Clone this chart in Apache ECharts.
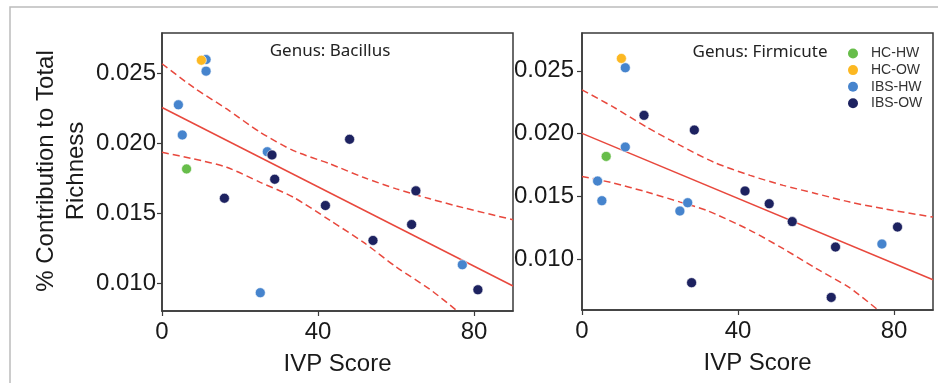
<!DOCTYPE html>
<html><head><meta charset="utf-8">
<script src="https://cdn.jsdelivr.net/npm/echarts@6/dist/echarts.min.js"></script>
<style>html,body{margin:0;padding:0;background:#fff}#c{width:938px;height:383px}</style>
</head><body><div id="c"></div>
<script>
// ---- data ----
const groups = ['HC-HW', 'HC-OW', 'IBS-HW', 'IBS-OW'];
const xTicks = [0, 40, 80];
const yTicks = [0.010, 0.015, 0.020, 0.025];
const panelTitles = ['Genus: Bacillus', 'Genus: Firmicute'];

// Bacillus panel
const bacHCHW = [[6.3, 0.01817]];
const bacHCOW = [[10.1, 0.02595]];
const bacIBSHW = [[11.3, 0.0260], [11.3, 0.02517], [4.2, 0.02276], [5.2, 0.0206], [27.0, 0.0194], [25.2, 0.00931], [77.0, 0.01131]];
const bacIBSOW = [[16.0, 0.01607], [28.2, 0.01917], [28.9, 0.01743], [48.1, 0.02029], [41.9, 0.01555], [54.1, 0.01305], [65.1, 0.0166], [64.0, 0.01419], [81.0, 0.00952]];
const bacFit = [[0, 0.02257], [90, 0.00979]];
const bacUpper = [[0, 0.0257], [8.1, 0.0240], [16.6, 0.02246], [25.2, 0.02079], [33.7, 0.01948], [43.1, 0.01853], [51.6, 0.01757], [60.1, 0.01674], [68.7, 0.01603], [77.2, 0.01540], [90, 0.01453]];
const bacLower = [[0, 0.01936], [8.1, 0.01889], [16.6, 0.01829], [25.2, 0.01721], [33.7, 0.01614], [43.1, 0.01448], [51.6, 0.01293], [60.1, 0.01114], [68.7, 0.00955], [75.5, 0.00805]];

// Firmicute panel
const firHCHW = [[6.2, 0.0182]];
const firHCOW = [[10.1, 0.02598]];
const firIBSHW = [[11.1, 0.02524], [11.1, 0.01894], [4.0, 0.01624], [5.1, 0.01468], [25.1, 0.01386], [27.1, 0.01452], [76.9, 0.01124]];
const firIBSOW = [[15.9, 0.02146], [28.8, 0.02029], [28.1, 0.00817], [41.8, 0.01545], [48.0, 0.01444], [53.9, 0.01302], [65.0, 0.0110], [63.9, 0.0070], [80.9, 0.01259]];
const firFit = [[0, 0.02003], [90, 0.0084]];
const firUpper = [[0, 0.02349], [8.1, 0.02211], [16.6, 0.02052], [25.2, 0.01907], [33.7, 0.01775], [43.1, 0.01669], [51.6, 0.0159], [60.1, 0.01524], [68.7, 0.01457], [77.2, 0.01405], [90, 0.01338]];
const firLower = [[0, 0.01661], [8.1, 0.01608], [16.6, 0.01537], [25.2, 0.01457], [32.0, 0.01391], [43.1, 0.01233], [51.6, 0.01087], [60.1, 0.00929], [68.7, 0.00775], [75.9, 0.006]];

// ---- styling ----
const colors = {'HC-HW': '#67bd4a', 'HC-OW': '#fcb822', 'IBS-HW': '#4684cd', 'IBS-OW': '#1d2260'};
const red = '#e8483d';
const axisColor = '#3a3a3a';
const textColor = '#1a1a1a';
const font = '"Liberation Sans", Arial, sans-serif';

const grids = [
  {left: 162, top: 33, width: 351, height: 278},
  {left: 582, top: 33, width: 351, height: 277}
];
const yRanges = [[0.008, 0.0279], [0.006, 0.028]];
const labelMargins = [6, 8];

function xAxis(i) {
  return {
    type: 'value', gridIndex: i, min: 0, max: 90,
    name: 'IVP Score', nameLocation: 'middle', nameGap: 41,
    nameTextStyle: {fontSize: 24, color: textColor, fontFamily: font},
    axisLine: {show: true, lineStyle: {color: axisColor, width: 1.5}},
    axisTick: {show: true, length: 5, customValues: xTicks, lineStyle: {color: axisColor, width: 1.2}},
    axisLabel: {customValues: xTicks, fontSize: 24, color: textColor, fontFamily: font, margin: 9},
    splitLine: {show: false}
  };
}
function yAxis(i) {
  return {
    type: 'value', gridIndex: i, min: yRanges[i][0], max: yRanges[i][1],
    axisLine: {show: true, lineStyle: {color: axisColor, width: 1.5}},
    axisTick: {show: true, length: 5, customValues: yTicks, lineStyle: {color: axisColor, width: 1.2}},
    axisLabel: {customValues: yTicks, fontSize: 24, color: textColor, fontFamily: font, margin: labelMargins[i],
      formatter: v => v.toFixed(3)},
    splitLine: {show: false}
  };
}

function lineSeries(i, data, dashed) {
  return {
    type: 'line', xAxisIndex: i, yAxisIndex: i, data: data, showSymbol: false, symbol: 'none',
    smooth: dashed ? 0.25 : false, silent: true, z: 1,
    lineStyle: {color: red, width: 1.5, type: dashed ? [7, 4] : 'solid'}
  };
}
function scatter(i, name, data, z) {
  return {
    type: 'scatter', name: name, xAxisIndex: i, yAxisIndex: i, data: data,
    symbolSize: 10, z: z,
    itemStyle: {color: colors[name], opacity: 1, borderColor: '#ffffff', borderWidth: 0.6}
  };
}

const panels = [
  {hchw: bacHCHW, hcow: bacHCOW, ibshw: bacIBSHW, ibsow: bacIBSOW, fit: bacFit, up: bacUpper, lo: bacLower},
  {hchw: firHCHW, hcow: firHCOW, ibshw: firIBSHW, ibsow: firIBSOW, fit: firFit, up: firUpper, lo: firLower}
];
const series = [];
panels.forEach((p, i) => {
  series.push(lineSeries(i, p.up, true));
  series.push(lineSeries(i, p.lo, true));
  series.push(lineSeries(i, p.fit, false));
  series.push(scatter(i, 'IBS-HW', p.ibshw, 2));
  series.push(scatter(i, 'IBS-OW', p.ibsow, 3));
  series.push(scatter(i, 'HC-HW', p.hchw, 4));
  series.push(scatter(i, 'HC-OW', p.hcow, 4));
});

const chart = echarts.init(document.getElementById('c'), null, {renderer: 'canvas'});
chart.setOption({
  backgroundColor: '#ffffff',
  animation: false,
  grid: grids.map(g => Object.assign({show: true, borderColor: axisColor, borderWidth: 1.5, backgroundColor: 'transparent'}, g)),
  xAxis: [xAxis(0), xAxis(1)],
  yAxis: [yAxis(0), yAxis(1)],
  legend: {
    data: groups, orient: 'vertical', left: 843, top: 41.5, icon: 'circle', padding: 5,
    itemWidth: 10, itemHeight: 10, itemGap: 2.6, selectedMode: false,
    itemStyle: {borderWidth: 0},
    textStyle: {fontSize: 14, lineHeight: 14, color: '#333', fontFamily: font, padding: [0, 0, 0, 8]}
  },
  graphic: [
    {type: 'polyline', shape: {points: [[10, 383], [10, 7], [938, 7]]}, style: {stroke: '#bcbcbc', lineWidth: 1.5, fill: null}, silent: true},
    {type: 'text', x: 330, y: 51, style: {text: panelTitles[0], fontSize: 17, fontFamily: '"Noto Sans", "Open Sans", sans-serif', fill: '#222', align: 'center', verticalAlign: 'middle'}},
    {type: 'text', x: 760, y: 52, style: {text: panelTitles[1], fontSize: 17, fontFamily: '"Noto Sans", "Open Sans", sans-serif', fill: '#222', align: 'center', verticalAlign: 'middle'}},
    {type: 'text', x: 61, y: 171, rotation: Math.PI / 2,
      style: {text: '% Contribution to Total\nRichness', fontSize: 24, lineHeight: 30, fontFamily: font, fill: textColor, align: 'center', verticalAlign: 'middle'}}
  ],
  series: series
});
</script>
</body></html>
